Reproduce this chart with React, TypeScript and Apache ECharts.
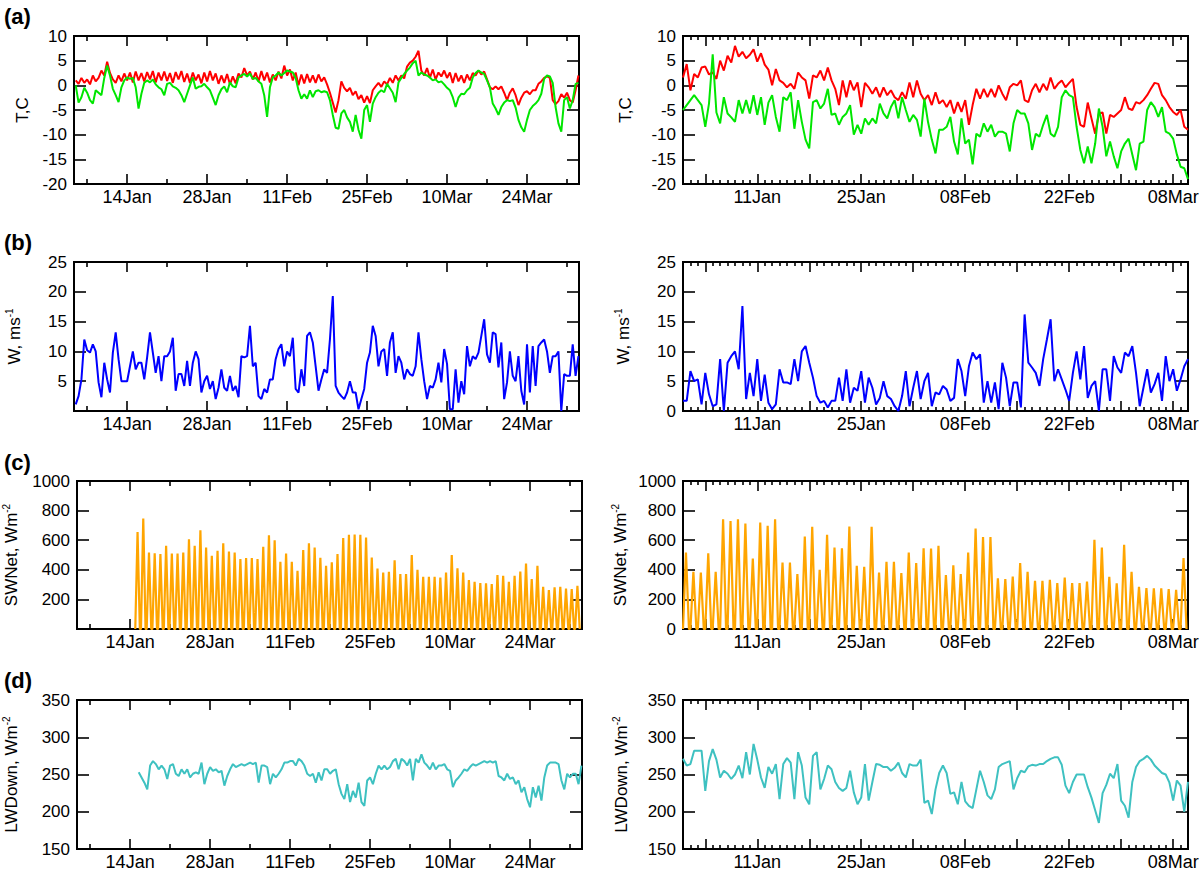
import React, { useEffect, useRef } from "react";
import * as echarts from "echarts";

// ---------- axis tick / label definitions (days since 1 Jan) ----------
const leftLabelDays = [13, 27, 41, 55, 69, 83];
const leftLabels = ["14Jan", "28Jan", "11Feb", "25Feb", "10Mar", "24Mar"];
const leftWeekDays = [6, 20, 34, 48, 62, 76, 90];
const rightLabelDays = [10, 24, 38, 52, 66];
const rightLabels = ["11Jan", "25Jan", "08Feb", "22Feb", "08Mar"];
const rightWeekDays = [3, 10, 17, 24, 31, 38, 45, 52, 59, 66];

// ---------- sampling of the series ----------
const STEP = 0.5; // half-day samples
const T_LEFT_START = 4;
const T_RIGHT_START = 0;
const W_LEFT_START = 4;
const W_RIGHT_START = 0;
const LW_LEFT_START = 14.5;
const LW_RIGHT_START = 0;
const SW_LEFT_FIRST_PEAK = 14.3;
const SW_RIGHT_FIRST_PEAK = 0.4;

// (a) temperature, left period
const tRedLeft = [
  1.0, 0.3, 1.5, 0.5, 1.2, 0.2, 2.0, 0.8, 1.5, 3.0,
  2.0, 4.8, 2.5, 1.2, 0.5, 2.0, 0.8, 2.4, 1.0, 2.6,
  0.6, 2.8, 1.0, 2.5, 0.8, 2.7, 1.2, 2.9, 0.6, 2.6,
  1.0, 2.8, 0.9, 2.5, 0.5, 2.7, 1.2, 2.9, 0.7, 2.4,
  0.5, 2.6, 1.0, 2.2, 0.4, 2.6, 0.8, 2.9, 1.0, 2.4,
  0.3, 2.0, 0.5, 2.3, 0.2, 1.8, 0.4, 2.4, 1.6, 3.5,
  2.0, 2.8, 1.2, 2.6, 0.8, 2.9, 1.0, 2.6, 0.6, 2.2,
  1.0, 2.8, 1.4, 4.0, 2.0, 3.2, 1.0, 2.6, 0.0, 2.2,
  0.4, 2.3, 0.6, 2.0, 0.5, 2.2, 0.8, 1.6, 0.2, -1.5,
  -3.5, -5.5, -3.0, 0.8, -0.5, -1.2, -0.5, -2.0, -1.2, -2.8,
  -2.0, -3.5, -2.2, -3.6, -1.0, -0.2, 0.5, -0.3, 0.8, 0.2,
  1.5, 0.5, 2.0, 1.0, 2.0, 1.4, 3.8, 4.6, 5.0, 5.8,
  7.0, 3.0, 2.0, 3.5, 1.5, 3.2, 1.2, 2.6, 1.8, 3.0,
  1.5, 2.6, 0.5, 2.5, 0.8, 2.0, 0.5, 2.2, 1.0, 2.5,
  2.0, 3.0, 2.2, 2.8, 1.2, -0.4, -0.8, -0.2, -0.8, -0.2,
  -1.5, -3.0, -1.5, -0.6, -2.0, -4.0, -2.5, -1.5, -1.2, -1.8,
  -1.0, -1.0, 0.3, 0.8, 1.5, 1.8, 1.5, -3.0, -3.8, -3.2,
  -1.8, -2.5, -1.5, -3.0, -3.5, -1.0, 2.0,
];
const tGreenLeft = [
  0.0, -3.5, -2.4, -0.5, -1.5, -3.0, -3.7, -1.0, -1.5, -2.0,
  1.5, 4.0, 2.0, -0.7, -2.0, -3.4, -0.4, 1.0, 1.6, 1.3,
  1.5, -0.4, -4.7, -1.7, 0.5, 1.0, 0.6, 1.2, 0.2, -0.4,
  -0.8, -2.0, 0.3, 0.5, -0.2, -0.5, -1.0, -2.0, -3.4, -1.7,
  0.0, 1.6, -0.7, -0.3, -0.2, 0.3, -0.4, -1.0, -2.5, -4.0,
  -2.0, -0.8, -0.2, -1.4, 0.6, -0.2, -0.4, 1.6, 2.0, 2.3,
  1.8, 2.4, 1.3, 1.5, 0.8, 0.3, -2.0, -6.4, -0.4, 1.6,
  2.0, 2.6, 2.0, 2.5, 3.0, 2.8, 2.6, 1.5, -1.0, -2.7,
  -1.8, -2.7, -1.0, -2.4, -1.2, -1.0, -1.4, -1.2, -1.4, -3.0,
  -6.0, -8.6, -8.8, -5.7, -5.0, -6.5, -7.4, -9.4, -6.0, -9.0,
  -10.8, -5.0, -4.0, -7.4, -3.7, -2.4, -1.5, -1.0, -1.4, 0.3,
  -0.6, -1.5, -3.4, 0.6, 1.5, 2.3, 3.0, 3.6, 4.5, 5.0,
  2.0, 2.6, 2.2, 2.0, 1.6, 1.0, 1.2, 0.6, 0.8, 0.2,
  -0.5, -1.0, -2.4, -4.4, -2.5, -1.7, -1.8, -1.0, -0.5, 1.6,
  2.5, 3.0, 2.6, 2.3, 1.0, -0.4, -3.7, -4.7, -6.0, -4.4,
  -3.5, -3.0, -3.2, -3.0, -4.5, -7.0, -8.5, -9.4, -7.0, -5.0,
  -4.2, -3.7, -3.0, -1.7, 1.3, 2.0, 1.8, 0.5, -4.4, -7.7,
  -9.4, -3.0, -2.4, -4.7, -3.0, 0.3, 0.5,
];
// (a) temperature, right period
const tRedRight = [
  1.6, 4.3, -1.0, 2.3, 1.6, 3.6, 3.8, 2.2, 2.6, 1.3,
  5.0, 3.0, 6.0, 4.6, 8.0, 5.8, 6.8, 5.5, 6.2, 7.3,
  4.8, 6.5, 4.2, 3.2, 0.0, 3.3, 1.0, 0.5, -0.4, 0.3,
  -0.7, 2.6, 1.6, 1.0, -2.7, 2.0, 1.6, 3.0, 1.0, 3.6,
  1.0, -0.7, -4.0, 1.0, -2.4, 1.0, -1.0, 0.6, -4.4, 0.5,
  -0.4, -1.7, -0.4, -2.4, -0.4, -2.0, -1.0, -2.4, -3.0, -1.4,
  -2.7, 0.6, -2.4, 1.0, -1.7, -3.0, -2.0, -4.0, -1.4, -3.7,
  -3.0, -4.4, -3.0, -5.7, -3.4, -5.4, -3.0, -8.0, -4.0, -0.7,
  -2.7, -0.7, -2.4, -0.7, -2.4, 0.0, -1.7, -3.0, -0.4, 0.3,
  0.0, 1.0, -3.0, -3.4, -1.0, 0.3, -1.4, 0.3, -1.0, 1.6,
  -0.7, 0.3, 1.0, -0.4, 0.5, 1.3, -4.4, -8.0, -8.4, -3.5,
  -6.7, -9.8, -5.7, -5.5, -9.8, -6.0, -6.4, -5.7, -5.0, -2.4,
  -4.7, -5.0, -3.4, -3.7, -3.0, -2.0, -0.7, 0.5, 0.3, -2.0,
  -3.0, -4.4, -5.4, -6.0, -5.0, -8.4, -9.0,
];
const tGreenRight = [
  -5.0, -4.0, -3.0, -2.0, -3.0, -4.0, -8.4, -3.7, 6.3, -5.5,
  -7.7, -2.4, -5.7, -6.5, -7.4, -3.0, -5.7, -3.0, -5.7, -2.0,
  -6.0, -2.4, -8.0, -3.5, -2.0, -6.4, -9.4, -2.4, -3.0, -1.4,
  -8.8, -3.0, -7.4, -11.0, -12.8, -3.4, -3.0, -4.7, -3.7, -0.7,
  -6.0, -5.7, -8.0, -6.4, -5.7, -4.0, -10.0, -8.0, -9.8, -6.7,
  -8.0, -6.7, -7.7, -3.7, -5.7, -6.7, -4.4, -3.0, -6.7, -2.4,
  -5.0, -7.4, -6.0, -7.0, -10.4, -2.7, -7.5, -11.0, -13.8, -9.0,
  -9.0, -8.4, -6.4, -11.4, -14.0, -6.7, -11.8, -11.0, -16.0, -9.8,
  -10.4, -7.7, -9.4, -8.0, -10.4, -9.4, -9.4, -9.8, -13.4, -7.7,
  -5.0, -5.7, -5.7, -7.7, -13.1, -9.8, -10.4, -8.0, -6.0, -9.8,
  -10.4, -8.4, -2.4, -1.0, -2.0, -2.4, -8.4, -13.1, -15.8, -12.4,
  -15.8, -11.8, -4.7, -8.4, -14.4, -11.4, -14.4, -16.8, -13.4, -11.8,
  -10.8, -14.0, -17.2, -11.8, -11.4, -5.0, -3.4, -4.4, -6.4, -4.4,
  -9.4, -9.8, -10.8, -14.0, -16.5, -16.8, -19.0,
];

// (b) wind speed
const wLeft = [
  1.1, 2.5, 5.3, 12.0, 10.2, 9.8, 11.2, 10.0, 4.8, 2.3,
  8.1, 5.3, 3.1, 9.8, 13.2, 8.7, 5.0, 5.0, 5.0, 7.5,
  10.0, 7.0, 8.1, 8.1, 5.3, 9.0, 13.2, 9.8, 6.4, 9.2,
  5.0, 9.2, 9.2, 10.0, 12.3, 3.4, 6.2, 6.2, 4.2, 8.4,
  4.2, 8.1, 10.0, 8.7, 3.1, 5.0, 5.9, 3.7, 5.0, 2.0,
  3.9, 7.0, 3.9, 3.4, 5.9, 3.4, 4.2, 2.3, 9.2, 9.0,
  9.2, 14.3, 7.5, 8.1, 2.5, 2.0, 3.7, 3.1, 5.3, 5.3,
  8.7, 10.4, 11.2, 7.5, 10.0, 9.2, 12.3, 3.7, 3.1, 7.0,
  4.2, 12.6, 13.2, 11.5, 7.5, 3.4, 5.3, 7.0, 6.4, 12.0,
  19.3, 4.2, 3.1, 2.5, 2.0, 3.1, 5.0, 3.1, 3.1, 0.3,
  2.0, 3.7, 8.1, 9.8, 14.3, 12.6, 7.5, 10.0, 10.4, 5.9,
  11.5, 13.2, 6.4, 9.2, 8.1, 5.3, 7.0, 6.2, 5.9, 7.5,
  13.2, 8.7, 5.0, 2.0, 4.2, 3.9, 5.3, 8.1, 4.8, 10.4,
  7.9, 0.3, 0.3, 7.0, 1.4, 5.0, 2.8, 10.9, 7.5, 9.2,
  8.7, 9.8, 12.6, 15.4, 9.5, 8.1, 13.2, 12.9, 7.3, 11.5,
  2.0, 4.8, 10.0, 5.9, 5.0, 9.2, 3.4, 1.1, 11.2, 3.1,
  10.9, 4.2, 10.9, 11.5, 12.0, 10.0, 6.4, 9.2, 9.2, 10.0,
  0.0, 6.2, 5.9, 5.9, 11.2, 5.9, 9.2,
];
const wRight = [
  1.7, 1.7, 6.7, 5.0, 5.3, 1.1, 6.4, 2.8, 0.8, 1.1,
  8.7, 0.0, 8.1, 9.2, 10.0, 7.0, 17.6, 2.0, 6.4, 2.5,
  8.7, 1.7, 6.1, 1.4, 0.3, 1.1, 7.0, 4.8, 4.8, 4.5,
  8.7, 5.0, 10.0, 10.9, 8.1, 5.6, 2.5, 1.4, 1.7, 0.6,
  1.7, 1.7, 5.6, 1.7, 7.0, 1.4, 3.9, 3.4, 6.7, 1.4,
  5.6, 3.9, 1.1, 2.2, 5.0, 2.5, 2.0, 0.8, 0.0, 2.5,
  6.7, 0.8, 3.9, 6.7, 2.0, 5.0, 6.4, 0.8, 3.1, 2.8,
  4.2, 3.6, 1.7, 2.2, 8.7, 6.7, 2.5, 7.5, 9.8, 8.7,
  9.5, 1.4, 5.0, 1.4, 4.8, 0.3, 8.1, 5.6, 0.8, 4.8,
  4.8, 0.6, 16.2, 8.1, 7.3, 6.4, 4.2, 8.7, 12.0, 15.4,
  5.0, 7.0, 5.3, 3.6, 1.7, 6.4, 10.0, 5.3, 10.9, 2.2,
  4.2, 5.0, 0.0, 7.0, 7.0, 1.7, 9.2, 7.3, 6.4, 9.8,
  9.2, 10.9, 6.4, 0.8, 3.9, 7.0, 3.1, 4.5, 6.4, 1.7,
  9.2, 5.0, 7.0, 3.4, 5.3, 7.5, 8.7,
];

// (c) net shortwave: daily peak values
const swPeaksLeft = [
  656, 746, 517, 512, 506, 562, 510, 510, 517, 607,
  562, 667, 551, 494, 528, 580, 524, 517, 472, 479,
  479, 472, 555, 634, 600, 454, 510, 454, 393, 533,
  580, 551, 481, 427, 450, 506, 614, 636, 638, 636,
  618, 483, 409, 382, 387, 465, 371, 371, 499, 400,
  353, 353, 353, 348, 382, 499, 411, 382, 330, 319,
  310, 308, 303, 364, 360, 319, 360, 389, 443, 337,
  427, 285, 263, 281, 285, 274, 270, 292,
];
const swPeaksRight = [
  517, 387, 382, 512, 387, 742, 730, 742, 712, 476,
  719, 697, 742, 449, 449, 371, 625, 690, 400, 636,
  551, 546, 692, 427, 420, 690, 382, 454, 454, 378,
  517, 445, 546, 544, 562, 364, 431, 371, 517, 679,
  622, 622, 342, 337, 355, 445, 387, 326, 326, 333,
  310, 348, 310, 310, 321, 602, 551, 353, 308, 569,
  387, 285, 276, 274, 274, 270, 265, 479,
];

// (d) downward longwave
const lwLeft = [
  253, 246, 239, 230, 262, 268, 264, 257, 262, 257,
  244, 262, 264, 251, 248, 257, 251, 257, 246, 251,
  253, 251, 266, 237, 251, 260, 255, 257, 253, 255,
  235, 248, 257, 264, 260, 262, 264, 262, 264, 266,
  264, 266, 239, 262, 262, 260, 237, 251, 246, 251,
  257, 266, 266, 268, 268, 262, 271, 268, 262, 251,
  248, 251, 239, 253, 242, 257, 257, 251, 255, 257,
  237, 224, 217, 237, 213, 228, 219, 239, 213, 208,
  242, 246, 237, 251, 262, 257, 262, 257, 260, 268,
  271, 257, 271, 268, 262, 271, 242, 271, 266, 277,
  266, 262, 257, 266, 257, 262, 262, 264, 257, 255,
  233, 242, 246, 251, 257, 255, 260, 264, 262, 264,
  266, 268, 266, 268, 266, 268, 248, 246, 242, 251,
  244, 246, 237, 242, 226, 233, 217, 206, 233, 219,
  235, 215, 246, 262, 266, 266, 266, 264, 242, 230,
  251, 246, 251, 251, 237, 262,
];
const lwRight = [
  271, 262, 264, 282, 282, 282, 228, 268, 284, 270,
  246, 255, 251, 244, 250, 262, 245, 280, 250, 291,
  270, 246, 232, 260, 251, 264, 217, 264, 272, 266,
  217, 280, 262, 219, 210, 275, 280, 230, 244, 262,
  257, 240, 232, 228, 232, 255, 226, 210, 219, 264,
  215, 240, 264, 263, 260, 260, 255, 259, 266, 252,
  246, 264, 262, 262, 270, 212, 215, 197, 230, 252,
  262, 252, 224, 226, 210, 240, 214, 208, 205, 230,
  255, 240, 222, 217, 230, 260, 264, 266, 268, 230,
  245, 255, 253, 261, 263, 262, 264, 264, 268, 271,
  273, 273, 263, 235, 225, 240, 250, 250, 250, 233,
  219, 202, 185, 225, 236, 251, 245, 264, 215, 208,
  192, 240, 260, 268, 271, 275, 270, 262, 257, 252,
  250, 239, 215, 242, 235, 200, 240,
];

// ---------- styling ----------
const FONT = "'Liberation Sans', Arial, Helvetica, sans-serif";
const RED = "#ff0000";
const GREEN = "#00e600";
const BLUE = "#0000ff";
const ORANGE = "#ffa500";
const TEAL = "#3ec1c1";
const SW_HALF = 0.4;

const toXY = (start: number, vals: number[]) => vals.map((v, i) => [start + i * STEP, v]);
const spikes = (firstPeak: number, peaks: number[]) => {
  const out: number[][] = [];
  peaks.forEach((p, i) => {
    const d = firstPeak + i;
    out.push([d - SW_HALF, 0], [d, p], [d + SW_HALF, 0]);
  });
  return out;
};

type Side = "L" | "R";

const tickStyle = { color: "#000", width: 1.6 };

function xAxesFor(gridIndex: number, side: Side) {
  const isL = side === "L";
  const min = isL ? 3.7 : 0;
  const max = isL ? 92.1 : 68;
  const labelDays = isL ? leftLabelDays : rightLabelDays;
  const labels = isL ? leftLabels : rightLabels;
  const major = isL ? leftLabelDays : rightWeekDays;
  const minor: number[] = [];
  if (isL) {
    minor.push(...leftWeekDays);
  } else {
    for (let d = 0; d <= 68; d++) if (rightWeekDays.indexOf(d) < 0) minor.push(d);
  }
  const base = {
    type: "value",
    gridIndex,
    min,
    max,
    splitLine: { show: false },
    axisLine: { show: false, onZero: false },
    axisPointer: { show: false },
  };
  const majorTick = { show: true, inside: true, length: 10, customValues: major, lineStyle: tickStyle };
  const minorTick = { show: true, inside: true, length: isL ? 5 : 4, customValues: minor, lineStyle: tickStyle };
  return [
    {
      ...base,
      position: "bottom",
      axisLabel: {
        show: true,
        customValues: labelDays,
        formatter: (v: number) => {
          const k = labelDays.indexOf(Math.round(v));
          return k >= 0 ? labels[k] : "";
        },
        fontSize: 18,
        color: "#000",
        fontFamily: FONT,
        margin: 4,
      },
      axisTick: majorTick,
    },
    { ...base, position: "bottom", axisLabel: { show: false }, axisTick: minorTick },
    { ...base, position: "top", axisLabel: { show: false }, axisTick: majorTick },
    { ...base, position: "top", axisLabel: { show: false }, axisTick: minorTick },
  ];
}

function yAxesFor(
  gridIndex: number,
  min: number,
  max: number,
  interval: number,
  name: string,
  nameGap: number,
  hideZero: boolean
) {
  const base = {
    type: "value",
    gridIndex,
    min,
    max,
    interval,
    splitLine: { show: false },
    axisLine: { show: false, onZero: false },
    axisPointer: { show: false },
  };
  const tick = { show: true, inside: true, length: 12, lineStyle: tickStyle };
  return [
    {
      ...base,
      position: "left",
      name,
      nameLocation: "middle",
      nameGap,
      nameRotate: 90,
      nameMoveOverlap: false,
      nameTextStyle: {
        fontSize: 17,
        color: "#000",
        fontFamily: FONT,
        lineHeight: 20,
        rich: {
          sup: { fontSize: 10, color: "#000", fontFamily: FONT, verticalAlign: "top", lineHeight: 10 },
        },
      },
      axisLabel: {
        show: true,
        fontSize: 17,
        color: "#000",
        fontFamily: FONT,
        margin: 7,
        formatter: (v: number) => (hideZero && v === 0 ? "" : String(v)),
      },
      axisTick: tick,
    },
    { ...base, position: "right", axisLabel: { show: false }, axisTick: tick },
  ];
}

const lineSeries = (gridIndex: number, data: number[][], color: string, width = 2) => ({
  type: "line",
  xAxisIndex: gridIndex * 4,
  yAxisIndex: gridIndex * 2,
  data,
  showSymbol: false,
  symbol: "none",
  silent: true,
  clip: true,
  lineStyle: { color, width },
  itemStyle: { color },
  emphasis: { disabled: true },
});

function buildOption() {
  const grids = [
    { left: 74, top: 36, width: 505, height: 148 }, // a L
    { left: 683, top: 36, width: 505, height: 148 }, // a R
    { left: 74, top: 262, width: 505, height: 149 }, // b L
    { left: 683, top: 262, width: 505, height: 149 }, // b R
    { left: 77, top: 481, width: 505, height: 148 }, // c L
    { left: 683, top: 481, width: 505, height: 148 }, // c R
    { left: 77, top: 700, width: 505, height: 149 }, // d L
    { left: 683, top: 700, width: 505, height: 149 }, // d R
  ].map((g) => ({
    ...g,
    show: true,
    borderColor: "#000",
    borderWidth: 2,
    backgroundColor: "transparent",
    containLabel: false,
    outerBoundsMode: "none",
  }));

  const sides: Side[] = ["L", "R", "L", "R", "L", "R", "L", "R"];
  const xAxis: any[] = [];
  sides.forEach((s, i) => xAxis.push(...xAxesFor(i, s)));

  const yAxis: any[] = [
    ...yAxesFor(0, -20, 10, 5, "T,C", 42, false),
    ...yAxesFor(1, -20, 10, 5, "T,C", 48, false),
    ...yAxesFor(2, 0, 25, 5, "W, ms{sup|-1}", 50, true),
    ...yAxesFor(3, 0, 25, 5, "W, ms{sup|-1}", 50, false),
    ...yAxesFor(4, 0, 1000, 200, "SWNet, Wm{sup|-2}", 56, true),
    ...yAxesFor(5, 0, 1000, 200, "SWNet, Wm{sup|-2}", 53, false),
    ...yAxesFor(6, 150, 350, 50, "LWDown, Wm{sup|-2}", 56, false),
    ...yAxesFor(7, 150, 350, 50, "LWDown, Wm{sup|-2}", 52, false),
  ];

  const series = [
    lineSeries(0, toXY(T_LEFT_START, tRedLeft), RED),
    lineSeries(0, toXY(T_LEFT_START, tGreenLeft), GREEN),
    lineSeries(1, toXY(T_RIGHT_START, tRedRight), RED),
    lineSeries(1, toXY(T_RIGHT_START, tGreenRight), GREEN),
    lineSeries(2, toXY(W_LEFT_START, wLeft), BLUE),
    lineSeries(3, toXY(W_RIGHT_START, wRight), BLUE),
    lineSeries(4, spikes(SW_LEFT_FIRST_PEAK, swPeaksLeft), ORANGE, 2.2),
    lineSeries(5, spikes(SW_RIGHT_FIRST_PEAK, swPeaksRight), ORANGE, 2.2),
    lineSeries(6, toXY(LW_LEFT_START, lwLeft), TEAL),
    lineSeries(7, toXY(LW_RIGHT_START, lwRight), TEAL),
  ];

  const panelLetters = [
    { text: "(a)", top: 5 },
    { text: "(b)", top: 231 },
    { text: "(c)", top: 451 },
    { text: "(d)", top: 669 },
  ];

  return {
    animation: false,
    backgroundColor: "#ffffff",
    textStyle: { fontFamily: FONT },
    grid: grids,
    xAxis,
    yAxis,
    series,
    graphic: panelLetters.map((p) => ({
      type: "text",
      left: 4,
      top: p.top,
      silent: true,
      style: {
        text: p.text,
        fontSize: 22,
        fontWeight: "bold",
        fontFamily: FONT,
        fill: "#000",
      },
    })),
  };
}

export default function App() {
  const ref = useRef<HTMLDivElement>(null);
  useEffect(() => {
    if (!ref.current) return;
    const chart = echarts.init(ref.current, undefined, { renderer: "svg" });
    chart.setOption(buildOption() as any);
    return () => chart.dispose();
  }, []);
  return (
    <div
      ref={ref}
      style={{ position: "absolute", left: 0, top: 0, width: 1200, height: 873, background: "#fff" }}
    />
  );
}
